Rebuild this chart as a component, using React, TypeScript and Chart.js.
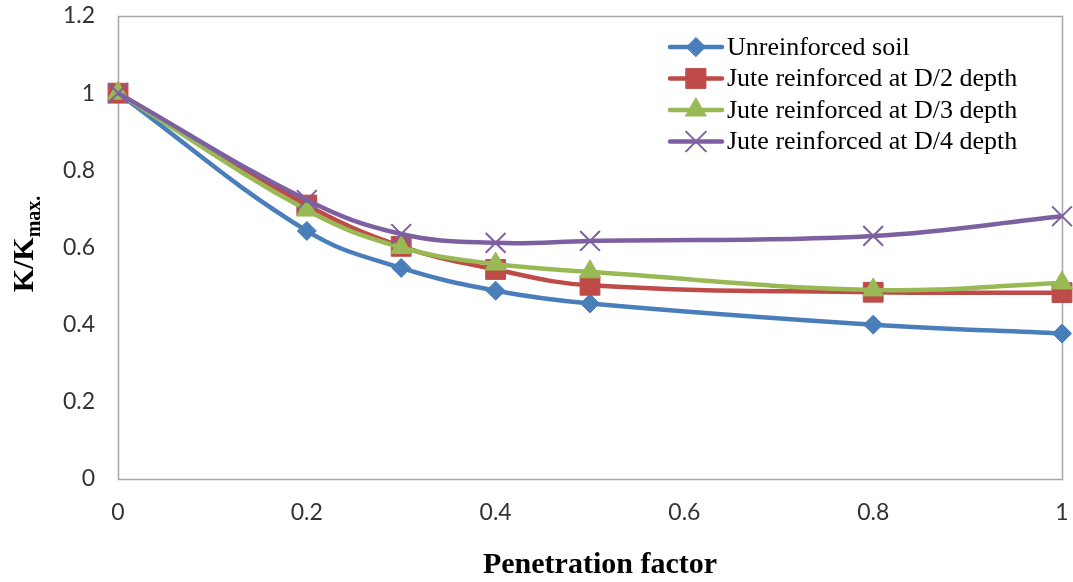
import React, { useEffect, useRef } from 'react';
import { Chart, registerables } from 'chart.js';
import { drawPoint } from 'chart.js/helpers';

Chart.register(...registerables);

// ---- data ----
const xValues = [0, 0.2, 0.3, 0.4, 0.5, 0.8, 1];
const unreinforced = [1, 0.643, 0.547, 0.488, 0.455, 0.4, 0.377];
const juteD2 = [1, 0.71, 0.603, 0.543, 0.502, 0.484, 0.483];
const juteD3 = [1, 0.697, 0.6, 0.557, 0.537, 0.49, 0.508];
const juteD4 = [1, 0.723, 0.635, 0.612, 0.617, 0.63, 0.681];
const seriesLabels = [
  'Unreinforced soil',
  'Jute reinforced at D/2 depth',
  'Jute reinforced at D/3 depth',
  'Jute reinforced at D/4 depth',
];
const seriesValues = [unreinforced, juteD2, juteD3, juteD4];
const seriesColors = ['#4A7EBB', '#BE4B48', '#98B954', '#7D60A0'];
const seriesMarkers = ['rectRot', 'rect', 'triangle', 'crossRot'];
const markerRadius = [9.5, 14, 12, 14];
const xTitle = 'Penetration factor';
const yTitleMain = 'K/K';
const yTitleSub = 'max.';

const fmt = (v: number) => String(Math.round(v * 10) / 10);

const zeroPad = (s: any) => {
  s.paddingTop = 0;
  s.paddingBottom = 0;
  s.paddingLeft = 0;
  s.paddingRight = 0;
};

export default function App() {
  const ref = useRef<HTMLCanvasElement | null>(null);
  useEffect(() => {
    if (!ref.current) return;
    const decor = {
      id: 'decor',
      beforeDatasetsDraw(chart: any) {
        const { ctx, chartArea: a } = chart;
        ctx.save();
        ctx.strokeStyle = '#A6A6A6';
        ctx.lineWidth = 1.5;
        ctx.strokeRect(Math.round(a.left) + 0.5, Math.round(a.top) + 0.5, Math.round(a.right - a.left), Math.round(a.bottom - a.top));
        ctx.restore();
      },
      afterDraw(chart: any) {
        const { ctx } = chart;
        ctx.save();
        // x title
        ctx.fillStyle = '#000';
        ctx.font = 'bold 30px "Liberation Serif"';
        ctx.textAlign = 'center';
        ctx.textBaseline = 'alphabetic';
        ctx.fillText(xTitle, 600, 573);
        // y title rotated with subscript
        ctx.save();
        ctx.font = 'bold 30px "Liberation Serif"';
        const w1 = ctx.measureText(yTitleMain).width;
        ctx.font = 'bold 20px "Liberation Serif"';
        const w2 = ctx.measureText(yTitleSub).width;
        ctx.translate(33, 244);
        ctx.rotate(-Math.PI / 2);
        ctx.textAlign = 'left';
        const start = -(w1 + w2) / 2;
        ctx.font = 'bold 30px "Liberation Serif"';
        ctx.fillText(yTitleMain, start, 0);
        ctx.font = 'bold 20px "Liberation Serif"';
        ctx.fillText(yTitleSub, start + w1, 7);
        ctx.restore();
        // legend
        const lx0 = 670, lx1 = 722, tx = 727;
        const rows = [47, 78.5, 110, 141.5];
        seriesLabels.forEach((lab, i) => {
          const y = rows[i];
          ctx.strokeStyle = seriesColors[i];
          ctx.lineWidth = 4.5;
          ctx.lineCap = 'round';
          ctx.beginPath();
          ctx.moveTo(lx0, y);
          ctx.lineTo(lx1, y);
          ctx.stroke();
          ctx.fillStyle = seriesColors[i];
          ctx.lineWidth = i === 3 ? 2 : 1;
          drawPoint(ctx, { pointStyle: seriesMarkers[i], radius: markerRadius[i], rotation: 0, borderWidth: ctx.lineWidth } as any, (lx0 + lx1) / 2, y);
          ctx.fillStyle = '#000';
          ctx.font = '26px "Liberation Serif"';
          ctx.textAlign = 'left';
          ctx.textBaseline = 'middle';
          ctx.fillText(lab, tx, y + 1);
        });
        ctx.restore();
      },
    };
    const chart = new Chart(ref.current, {
      type: 'line',
      data: {
        datasets: seriesValues.map((vals, i) => ({
          label: seriesLabels[i],
          data: xValues.map((x, j) => ({ x, y: vals[j] })),
          borderColor: seriesColors[i],
          backgroundColor: seriesColors[i],
          borderWidth: 4.5,
          tension: 0.4,
          pointStyle: seriesMarkers[i] as any,
          pointRadius: markerRadius[i],
          pointHoverRadius: markerRadius[i],
          pointBackgroundColor: seriesColors[i],
          pointBorderColor: seriesColors[i],
          pointBorderWidth: i === 3 ? 2 : 1,
          clip: false as any,
          order: 3 - i,
          fill: false,
        })),
      },
      options: {
        responsive: false,
        animation: false,
        events: [],
        layout: { autoPadding: false, padding: { left: 0, top: 16, right: 11, bottom: 0 } },
        plugins: { legend: { display: false }, tooltip: { enabled: false } },
        scales: {
          x: {
            type: 'linear',
            min: 0,
            max: 1,
            ticks: { stepSize: 0.2, padding: 20, color: '#333333', font: { family: 'Lato', size: 23 }, callback: (v: any) => fmt(Number(v)) },
            grid: { display: false, drawTicks: false },
            border: { display: false },
            afterFit: (s: any) => { s.height = 103; zeroPad(s); },
          },
          y: {
            type: 'linear',
            min: 0,
            max: 1.2,
            ticks: { stepSize: 0.2, padding: 23, color: '#333333', font: { family: 'Lato', size: 23 }, callback: (v: any) => fmt(Number(v)) },
            grid: { display: false, drawTicks: false },
            border: { display: false },
            afterFit: (s: any) => { s.width = 118; zeroPad(s); },
          },
        },
      },
      plugins: [decor],
    });
    return () => chart.destroy();
  }, []);
  return (
    <div style={{ position: 'absolute', left: 0, top: 0, width: 1073, height: 582, background: '#fff' }}>
      <canvas ref={ref} width={1073} height={582} style={{ display: 'block' }} />
    </div>
  );
}
